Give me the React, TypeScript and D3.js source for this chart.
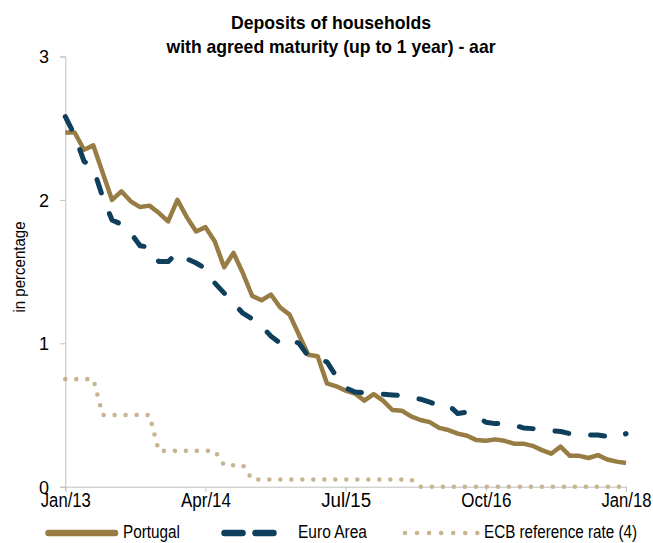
import * as d3 from 'd3';
import React, { FC, useEffect, useRef } from 'react';

// monthly, Jan/13 .. Jan/18
const portugal = [
  2.47, 2.47, 2.35, 2.38, 2.19, 2.0, 2.06, 1.99, 1.95, 1.96, 1.91, 1.85,
  2.0, 1.88, 1.78, 1.81, 1.71, 1.53, 1.63, 1.49, 1.33, 1.3, 1.34, 1.25,
  1.2, 1.06, 0.92, 0.91, 0.72, 0.7, 0.67, 0.65, 0.6, 0.645, 0.6, 0.535,
  0.53, 0.49, 0.465, 0.45, 0.41, 0.395, 0.37, 0.355, 0.325, 0.32, 0.33, 0.32,
  0.3, 0.3, 0.285, 0.255, 0.23, 0.28, 0.215, 0.215, 0.2, 0.22, 0.19, 0.175,
  0.165
];
const euroArea = [
  2.58, 2.45, 2.27, 2.22, 2.02, 1.86, 1.83, 1.77, 1.68, 1.67, 1.57, 1.57,
  1.63, 1.59, 1.56, 1.52, 1.42, 1.35, 1.28, 1.21, 1.17, 1.12, 1.05, 1.0,
  1.03, 1.0, 0.91, 0.89, 0.87, 0.77, 0.69, 0.66, 0.655, 0.65, 0.645, 0.64,
  0.635, 0.625, 0.61, 0.59, 0.565, 0.57, 0.51, 0.52, 0.49, 0.45, 0.44, 0.44,
  0.43, 0.41, 0.405, 0.4, 0.39, 0.385, 0.37, 0.36, 0.36, 0.36, 0.35, 0.34,
  0.37
];
const ecbRate = [
  0.75, 0.75, 0.75, 0.75, 0.5, 0.5, 0.5, 0.5, 0.5, 0.5, 0.25, 0.25,
  0.25, 0.25, 0.25, 0.25, 0.25, 0.15, 0.15, 0.15, 0.05, 0.05, 0.05, 0.05,
  0.05, 0.05, 0.05, 0.05, 0.05, 0.05, 0.05, 0.05, 0.05, 0.05, 0.05, 0.05,
  0.05, 0.05, 0, 0, 0, 0, 0, 0, 0, 0, 0, 0,
  0, 0, 0, 0, 0, 0, 0, 0, 0, 0, 0, 0,
  0
];
const xTickIndex = [0, 15, 30, 45, 60];
const xTickLabels = ['Jan/13', 'Apr/14', 'Jul/15', 'Oct/16', 'Jan/18'];
const yTicks = [0, 1, 2, 3];

const FONT = 'Liberation Sans, Arial, sans-serif';
const GOLD = '#977c43';
const NAVY = '#0e3f5d';
const TAN = '#c8b58f';
const GREY = '#bfbfbf';

const Chart: FC = (): JSX.Element => {
  const ref = useRef<SVGSVGElement>(null);

  useEffect(() => {
    const width = 653;
    const height = 543;
    const svg = d3.select(ref.current).attr('width', width).attr('height', height);
    svg.selectAll('*').remove();

    const x = d3.scaleLinear().domain([0, portugal.length - 1]).range([65.3, 626]);
    const y = d3.scaleLinear().domain([0, 3]).range([486.7, 56.5]);

    // title
    const title = svg
      .append('text')
      .attr('font-family', FONT)
      .attr('font-weight', 'bold')
      .attr('font-size', 19)
      .attr('text-anchor', 'middle');
    title
      .append('tspan')
      .attr('x', 331)
      .attr('y', 29)
      .attr('textLength', 200)
      .attr('lengthAdjust', 'spacingAndGlyphs')
      .text('Deposits of households');
    title
      .append('tspan')
      .attr('x', 331)
      .attr('y', 53)
      .attr('textLength', 329)
      .attr('lengthAdjust', 'spacingAndGlyphs')
      .text('with agreed maturity (up to 1 year) - aar');

    // y axis
    const yAxis = svg
      .append('g')
      .attr('transform', `translate(${x(0)},0)`)
      .call(
        d3
          .axisLeft(y)
          .tickValues(yTicks)
          .tickSizeOuter(0)
          .tickSize(5)
          .tickFormat(d3.format('d'))
      );
    yAxis.select('.domain').attr('stroke', GREY);
    yAxis.selectAll('line').attr('stroke', GREY);
    yAxis
      .selectAll('text')
      .attr('x', 49 - x(0))
      .attr('dy', '0.36em')
      .attr('font-family', FONT)
      .attr('font-size', 18)
      .attr('fill', '#000');

    svg
      .append('text')
      .attr('transform', 'translate(25,267) rotate(-90)')
      .attr('text-anchor', 'middle')
      .attr('font-family', FONT)
      .attr('font-size', 16)
      .attr('textLength', 91)
      .attr('lengthAdjust', 'spacingAndGlyphs')
      .text('in percentage');

    // x axis
    const xAxis = svg
      .append('g')
      .attr('transform', `translate(0,${y(0)})`)
      .call(
        d3
          .axisBottom(x)
          .tickValues(xTickIndex)
          .tickSizeOuter(0)
          .tickSize(5)
          .tickFormat((_, i) => xTickLabels[i])
      );
    xAxis.select('.domain').attr('stroke', GREY);
    xAxis.selectAll('line').attr('stroke', GREY);
    xAxis
      .selectAll('text')
      .attr('y', 20.5)
      .attr('dy', null)
      .attr('font-family', FONT)
      .attr('font-size', 20)
      .attr('textLength', 50)
      .attr('lengthAdjust', 'spacingAndGlyphs')
      .attr('fill', '#000');

    const line = d3
      .line<number>()
      .x((_, i) => x(i))
      .y((d) => y(d));

    svg
      .append('path')
      .attr('d', line(ecbRate))
      .attr('fill', 'none')
      .attr('stroke', TAN)
      .attr('stroke-width', 4.6)
      .attr('stroke-linecap', 'round')
      .attr('stroke-dasharray', '0 11');

    svg
      .append('path')
      .attr('d', line(portugal))
      .attr('fill', 'none')
      .attr('stroke', GOLD)
      .attr('stroke-width', 4.5)
      .attr('stroke-linejoin', 'round');

    svg
      .append('path')
      .attr('d', line(euroArea))
      .attr('fill', 'none')
      .attr('stroke', NAVY)
      .attr('stroke-width', 5)
      .attr('stroke-linecap', 'round')
      .attr('stroke-linejoin', 'round')
      .attr('stroke-dasharray', '14 22');

    // legend
    const ly = 533;
    const legend = svg.append('g');
    legend
      .append('line')
      .attr('x1', 48.5)
      .attr('x2', 115)
      .attr('y1', ly)
      .attr('y2', ly)
      .attr('stroke', GOLD)
      .attr('stroke-width', 6.5)
      .attr('stroke-linecap', 'round');
    legend
      .append('line')
      .attr('x1', 224.5)
      .attr('x2', 273.5)
      .attr('y1', ly)
      .attr('y2', ly)
      .attr('stroke', NAVY)
      .attr('stroke-width', 6.5)
      .attr('stroke-linecap', 'round')
      .attr('stroke-dasharray', '18 13');
    legend
      .append('line')
      .attr('x1', 405)
      .attr('x2', 478)
      .attr('y1', ly)
      .attr('y2', ly)
      .attr('stroke', TAN)
      .attr('stroke-width', 4.6)
      .attr('stroke-linecap', 'round')
      .attr('stroke-dasharray', '0 12.05');

    const items = [
      { label: 'Portugal', x: 123, w: 57 },
      { label: 'Euro Area', x: 298, w: 69 },
      { label: 'ECB reference rate (4)', x: 484, w: 153 }
    ];
    legend
      .selectAll('text')
      .data(items)
      .enter()
      .append('text')
      .attr('x', (d) => d.x)
      .attr('y', 538)
      .attr('font-family', FONT)
      .attr('font-size', 17.5)
      .attr('textLength', (d) => d.w)
      .attr('lengthAdjust', 'spacingAndGlyphs')
      .text((d) => d.label);
  }, []);

  return <svg ref={ref} style={{ position: 'absolute', left: 0, top: 0 }} />;
};

const App: FC = () => <Chart />;

export default App;
